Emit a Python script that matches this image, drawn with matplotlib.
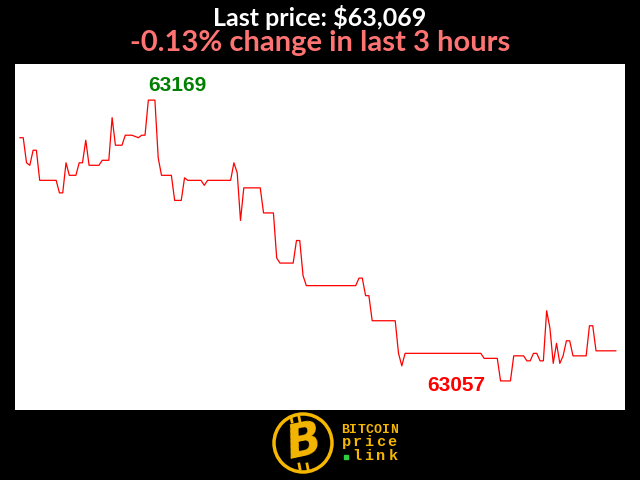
""" Last-price chart for the past 3 hours """
import matplotlib
matplotlib.use('Agg')
import matplotlib.pyplot as plt
from matplotlib.patches import Circle

# minutes since start of the window, and the price at each turning point
minutes = [0, 1, 2, 3, 4, 5, 6, 11, 12, 13, 14, 15, 17, 18, 19, 20, 21, 24, 25, 27,
           28, 29, 31, 32, 34, 36, 37, 38, 39, 41, 42, 43, 46, 47, 49, 50, 51, 55, 56, 57,
           64, 65, 66, 67, 68, 73, 74, 77, 78, 79, 83, 84, 85, 86, 87, 102, 103, 104, 105, 106,
           107, 114, 115, 116, 117, 140, 141, 145, 146, 149, 150, 153, 154, 155, 156, 157, 158, 159, 160, 161,
           162, 163, 164, 165, 166, 167, 168, 172, 173, 174, 175, 181]
prices = [63154, 63154, 63144, 63143, 63149, 63149, 63137, 63137, 63132, 63132, 63144, 63139, 63139, 63144, 63144, 63153, 63143, 63143, 63145, 63145,
          63162, 63151, 63151, 63155, 63155, 63154, 63155, 63155, 63169, 63169, 63146, 63139, 63139, 63129, 63129, 63138, 63137, 63137, 63135, 63137,
          63137, 63144, 63140, 63121, 63134, 63134, 63124, 63124, 63106, 63104, 63104, 63113, 63113, 63099, 63095, 63095, 63098, 63098, 63091, 63091,
          63081, 63081, 63068, 63063, 63068, 63068, 63066, 63066, 63057, 63057, 63067, 63067, 63065, 63065, 63068, 63068, 63065, 63065, 63085, 63078,
          63064, 63072, 63064, 63067, 63073, 63073, 63067, 63067, 63079, 63079, 63069, 63069]

title_price = 'Last price: $63,069'
title_change = '-0.13% change in last 3 hours'

GOLD = '#f5b700'

fig = plt.figure(figsize=(6.4, 4.8), dpi=100, facecolor='black')
ax = fig.add_axes([15 / 640, (480 - 410) / 480, 610 / 640, 346 / 480])
ax.set_facecolor('white')
ax.plot(minutes, prices, color='red', linewidth=0.9)
ax.set_xlim(-1.5, 183.8)
ax.set_ylim(63045.4, 63183.4)
ax.set_xticks([])
ax.set_yticks([])
for s in ax.spines.values():
    s.set_visible(False)

# high / low labels
hi = max(prices)
lo = min(prices)
t_hi = minutes[prices.index(hi)]
t_lo = minutes[prices.index(lo)]
ax.annotate(str(hi), (t_hi, hi), xytext=(0, 4), textcoords='offset points',
            ha='left', va='bottom', color='green', fontsize=15, fontweight='bold',
            family='Liberation Sans')
ax.annotate(str(lo), (t_lo, lo), xytext=(-11, -3.5), textcoords='offset points',
            ha='right', va='center', color='red', fontsize=15, fontweight='bold',
            family='Liberation Sans')

# titles
fig.text(0.5, 1 - 17 / 480, title_price, ha='center', va='center', color='white',
         fontsize=18, fontweight='bold', family='Lato')
fig.text(0.5, 1 - 43 / 480, title_change, ha='center', va='center', color='#ff7373',
         fontsize=21, fontweight='bold', family='Lato')

# logo
logo = fig.add_axes([0, 0, 1, 70 / 480])
logo.set_xlim(0, 640)
logo.set_ylim(70, 0)
logo.axis('off')
logo.add_patch(Circle((303, 443 - 410), 29, facecolor='black', edgecolor=GOLD, linewidth=2.5))
logo.text(304, 443 - 410, 'B', ha='center', va='center', color=GOLD, fontsize=33,
          fontweight='bold', style='italic', rotation=12, family='DejaVu Sans')
for dx in (-5, 3):
    logo.plot([296 + dx, 297 + dx], [417 - 410, 422 - 410], color=GOLD, linewidth=2)
    logo.plot([304 + dx, 305 + dx], [464 - 410, 469 - 410], color=GOLD, linewidth=2)


def spaced(word, x0, y, step, size):
    for i, ch in enumerate(word):
        logo.text(x0 + i * step, y, ch, ha='center', va='baseline', color=GOLD,
                  fontsize=size, fontweight='bold', family='Liberation Mono')


spaced('BITCOIN', 345, 433 - 410, 8.2, 9.5)
spaced('price', 346, 446 - 410, 11.5, 11)
spaced('link', 357, 460 - 410, 12, 11)
logo.plot([346], [457 - 410], marker='s', markersize=2.5, color='#2ecc40')

fig.savefig('out.png', dpi=100, facecolor='black')
